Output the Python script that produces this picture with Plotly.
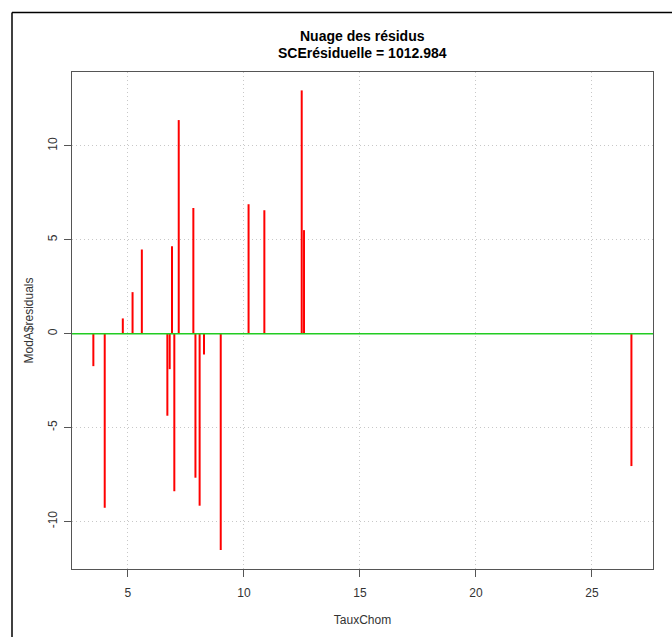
import plotly.graph_objects as go

# Data
taux_chom = [3.51, 4.00, 4.78, 5.20, 5.60, 6.70, 6.80, 6.90, 7.00, 7.19,
             7.82, 7.91, 8.09, 8.28, 9.00, 10.20, 10.88, 12.49, 12.59, 26.70]
residus = [-1.73, -9.27, 0.81, 2.21, 4.48, -4.37, -1.89, 4.65, -8.39, 11.37,
           6.69, -7.67, -9.16, -1.11, -11.52, 6.89, 6.57, 12.95, 5.51, -7.05]
x_ticks = [5, 10, 15, 20, 25]
y_ticks = [-10, -5, 0, 5, 10]
title_line1 = "Nuage des résidus"
title_line2 = "SCErésiduelle = 1012.984"
x_label = "TauxChom"
y_label = "ModA$residuals"

# Build vertical "h"-type segments from the data
xs, ys = [], []
for xv, yv in zip(taux_chom, residus):
    xs += [xv, xv, None]
    ys += [0, yv, None]

FONT = "Liberation Sans, Arial, sans-serif"

fig = go.Figure()
fig.add_trace(go.Scatter(x=xs, y=ys, mode="lines",
                         line=dict(color="#ff0000", width=2),
                         hoverinfo="skip", showlegend=False))

W, H = 672, 637
L, R, T, B = 72, 19, 72, 68
pw, ph = W - L - R, H - T - B

def px_to_paper_x(px):
    return (px - L) / pw

def px_to_paper_y(py):
    return 1 - (py - T) / ph

shapes = [
    # horizontal reference line at 0
    dict(type="line", xref="paper", yref="y", x0=0, x1=1, y0=0, y1=0,
         line=dict(color="#22cc22", width=1.5), layer="above"),
    # outer frame (left and top)
    dict(type="line", xref="paper", yref="paper",
         x0=px_to_paper_x(12), x1=px_to_paper_x(12),
         y0=px_to_paper_y(700), y1=px_to_paper_y(12.5),
         line=dict(color="#000000", width=1.5)),
    dict(type="line", xref="paper", yref="paper",
         x0=px_to_paper_x(12), x1=px_to_paper_x(700),
         y0=px_to_paper_y(12.5), y1=px_to_paper_y(12.5),
         line=dict(color="#000000", width=1.5)),
]

annotations = [
    dict(text="<b>" + title_line1 + "</b>", xref="paper", yref="paper",
         x=0.5, y=px_to_paper_y(36), showarrow=False,
         font=dict(family=FONT, size=14, color="#000"), xanchor="center", yanchor="middle"),
    dict(text="<b>" + title_line2 + "</b>", xref="paper", yref="paper",
         x=0.5, y=px_to_paper_y(53), showarrow=False,
         font=dict(family=FONT, size=14, color="#000"), xanchor="center", yanchor="middle"),
]

fig.update_layout(
    width=W, height=H,
    margin=dict(l=L, r=R, t=T, b=B),
    paper_bgcolor="white", plot_bgcolor="white",
    font=dict(family=FONT, size=12, color="#333"),
    shapes=shapes, annotations=annotations,
    showlegend=False,
)
fig.update_xaxes(
    range=[2.59, 27.63], tickvals=x_ticks, ticktext=[str(v) for v in x_ticks],
    showgrid=True, gridcolor="#c8c8c8", griddash="1px,3px", gridwidth=1,
    zeroline=False, showline=True, linecolor="#555", linewidth=1, mirror=True,
    ticks="outside", ticklen=7, tickcolor="#555", ticklabelstandoff=6,
    tickfont=dict(family=FONT, size=12, color="#333"),
    title=dict(text=x_label, font=dict(family=FONT, size=12, color="#333"), standoff=16),
)
fig.update_yaxes(
    range=[-12.53, 13.93], tickvals=y_ticks, ticktext=[str(v) for v in y_ticks],
    tickangle=-90, ticklabelstandoff=2,
    showgrid=True, gridcolor="#c8c8c8", griddash="1px,3px", gridwidth=1,
    zeroline=False, showline=True, linecolor="#555", linewidth=1, mirror=True,
    ticks="outside", ticklen=7, tickcolor="#555",
    tickfont=dict(family=FONT, size=12, color="#333"),
    title=dict(text=y_label, font=dict(family=FONT, size=12, color="#333"), standoff=10),
)

fig.write_html("out.html")
